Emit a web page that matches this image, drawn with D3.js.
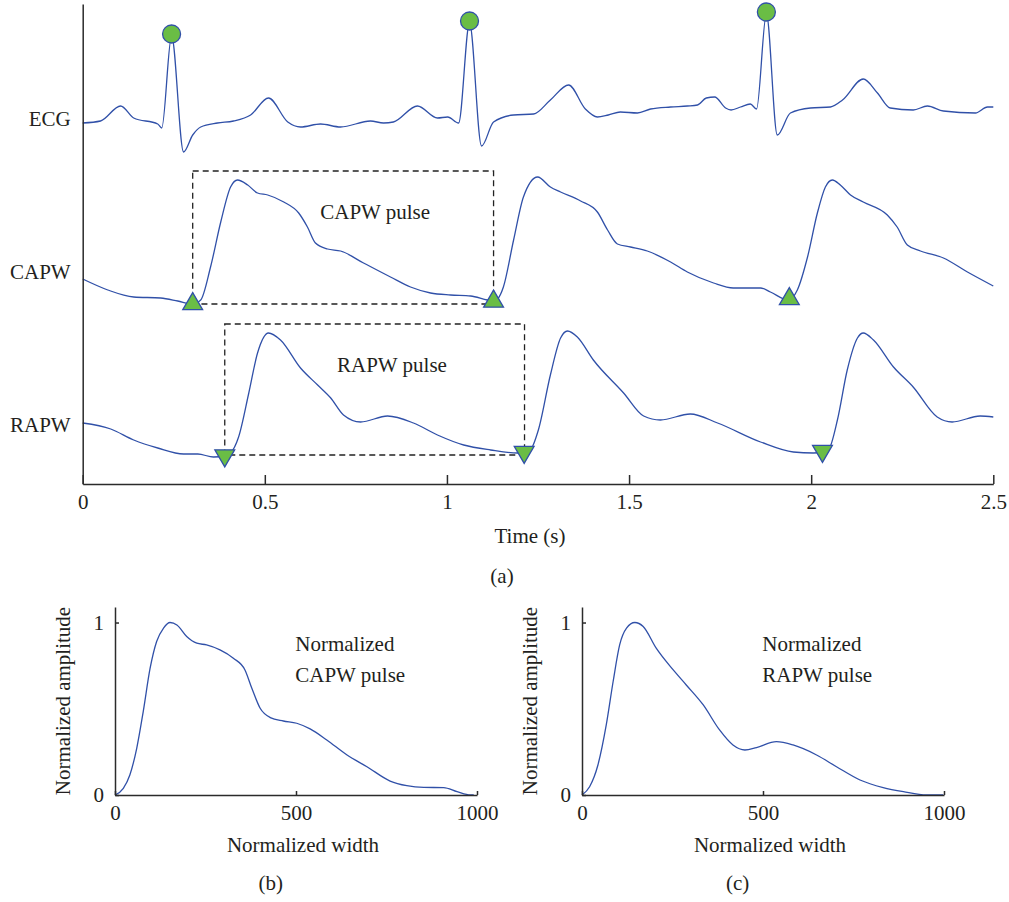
<!DOCTYPE html>
<html>
<head>
<meta charset="utf-8">
<script src="https://cdn.jsdelivr.net/npm/d3@7"></script>
<style>
    body { margin: 0; background: #fff; }
    svg text { font-family: "Liberation Serif", "DejaVu Serif", serif; fill: #231f20; }
</style>
</head>
<body>
<svg id="figure"></svg>
<script>
// ---- panel (a) data : time (s), amplitude (a.u., traces stacked) ----
var timeTicks = [0, 0.5, 1, 1.5, 2, 2.5];
var traceNames = ["ECG", "CAPW", "RAPW"];
var traceLabelLevels = [71.6, 41.0, 10.4];

var ecgTrace = [
    [0.00, 72.2], [0.049, 72.6], [0.104, 75.6], [0.140, 73.2], [0.206, 72.0], [0.217, 71.2],
    [0.244, 89.6], [0.277, 66.4], [0.302, 69.8], [0.324, 71.4], [0.370, 72.2], [0.414, 72.6],
    [0.461, 73.8], [0.510, 77.2], [0.563, 72.4], [0.598, 71.4], [0.653, 72.0], [0.708, 71.4],
    [0.790, 72.6], [0.826, 72.2], [0.853, 72.4], [0.919, 75.6], [0.974, 73.2], [1.002, 73.4],
    [1.032, 72.2], [1.062, 92.2], [1.095, 67.6], [1.128, 72.4], [1.183, 73.8], [1.238, 74.0],
    [1.284, 76.8], [1.334, 79.8], [1.380, 75.0], [1.413, 73.4], [1.443, 73.8], [1.476, 74.4],
    [1.523, 74.2], [1.559, 75.0], [1.614, 75.4], [1.660, 75.6], [1.688, 75.8], [1.712, 77.2],
    [1.735, 77.4], [1.765, 75.2], [1.780, 74.8], [1.806, 75.4], [1.833, 76.0], [1.850, 75.0], [1.877, 94.0],
    [1.907, 69.8], [1.943, 74.2], [1.998, 75.2], [2.053, 75.4], [2.086, 76.8], [2.143, 81.0],
    [2.182, 78.2], [2.217, 75.2], [2.280, 74.8], [2.319, 75.6], [2.363, 74.6], [2.451, 74.2],
    [2.484, 75.4], [2.500, 75.4]
];

var capwTrace = [
    [0.00, 41.0], [0.069, 38.8], [0.140, 37.4], [0.214, 37.2], [0.261, 36.6], [0.302, 36.0],
    [0.324, 36.8], [0.351, 43.4], [0.379, 52.4], [0.406, 59.4], [0.425, 60.8], [0.453, 59.8],
    [0.480, 58.2], [0.508, 57.8], [0.552, 56.4], [0.593, 54.2], [0.617, 51.4], [0.639, 48.2],
    [0.672, 47.0], [0.708, 46.6], [0.771, 44.2], [0.845, 41.4], [0.900, 39.4], [0.955, 38.2],
    [1.010, 37.8], [1.065, 37.6], [1.111, 36.8], [1.128, 36.6], [1.139, 37.0], [1.155, 39.4],
    [1.183, 48.8], [1.210, 57.4], [1.249, 61.4], [1.284, 59.4], [1.312, 58.4], [1.367, 56.6],
    [1.413, 54.4], [1.441, 50.8], [1.468, 48.0], [1.504, 47.4], [1.550, 46.6], [1.614, 44.4],
    [1.660, 42.4], [1.732, 40.2], [1.786, 39.2], [1.861, 39.2], [1.888, 38.4], [1.937, 36.8],
    [1.962, 38.8], [1.990, 45.4], [2.017, 54.2], [2.039, 59.4], [2.058, 60.8], [2.080, 59.8],
    [2.108, 57.8], [2.143, 56.4], [2.209, 53.8], [2.236, 51.4], [2.264, 47.8], [2.300, 46.6],
    [2.363, 45.2], [2.429, 42.4], [2.500, 39.6]
];

var rapwTrace = [
    [0.00, 12.2], [0.077, 11.0], [0.140, 8.8], [0.206, 7.2], [0.277, 6.0], [0.316, 6.0],
    [0.359, 5.4], [0.390, 5.6], [0.406, 6.2], [0.428, 9.4], [0.456, 18.2], [0.480, 26.2],
    [0.510, 30.2], [0.543, 28.8], [0.598, 23.2], [0.645, 19.8], [0.681, 17.2], [0.716, 13.8],
    [0.763, 12.4], [0.837, 13.6], [0.908, 12.2], [0.974, 9.8], [1.046, 7.8], [1.120, 6.8],
    [1.194, 6.2], [1.210, 6.2], [1.229, 6.8], [1.251, 10.8], [1.284, 21.8], [1.312, 29.2],
    [1.331, 30.6], [1.358, 29.4], [1.402, 24.8], [1.485, 18.2], [1.540, 13.6], [1.586, 12.8],
    [1.668, 14.0], [1.743, 12.2], [1.861, 8.4], [1.951, 6.4], [2.006, 6.2], [2.031, 6.4],
    [2.047, 6.8], [2.072, 12.8], [2.099, 22.8], [2.127, 29.2], [2.143, 30.2], [2.171, 28.8],
    [2.226, 23.4], [2.280, 19.4], [2.346, 13.4], [2.387, 12.4], [2.464, 13.6], [2.500, 13.4]
];

var ecgPeakTimes = [0.244, 1.062, 1.877];
var ecgPeakValues = [90.0, 92.6, 94.4];
var capwOnsetTimes = [0.302, 1.128, 1.940];
var capwOnsetValues = [36.0, 36.5, 37.0];
var rapwOnsetTimes = [0.390, 1.212, 2.031];
var rapwOnsetValues = [5.7, 6.4, 6.6];

var pulseBoxLabels = ["CAPW pulse", "RAPW pulse"];
var pulseBoxStart = [0.302, 0.390];
var pulseBoxEnd = [1.128, 1.213];
var pulseBoxLow = [36.0, 5.8];
var pulseBoxHigh = [62.6, 32.0];
var pulseLabelTime = [0.803, 0.849];
var pulseLabelLevel = [53.0, 22.4];

// ---- panels (b) and (c) : normalized width, normalized amplitude ----
var widthTicks = [0, 500, 1000];
var amplitudeTicks = [0, 1];

var capwNormalized = [
    [0, 0], [23, 0.039], [41, 0.116], [60, 0.271], [78, 0.484], [97, 0.735], [115, 0.890],
    [134, 0.967], [152, 1.0], [171, 0.986], [198, 0.919], [226, 0.880], [253, 0.870],
    [290, 0.841], [327, 0.793], [359, 0.725], [378, 0.619], [401, 0.503], [429, 0.449],
    [465, 0.429], [502, 0.416], [539, 0.383], [585, 0.319], [641, 0.232], [696, 0.164],
    [760, 0.081], [806, 0.054], [853, 0.044], [908, 0.043], [945, 0.019], [982, 0.0], [991, 0.0]
];

var rapwNormalized = [
    [0, 0], [21, 0.048], [44, 0.174], [67, 0.406], [86, 0.658], [104, 0.870], [123, 0.967],
    [146, 1.0], [169, 0.977], [205, 0.851], [252, 0.725], [288, 0.638], [335, 0.522],
    [380, 0.377], [417, 0.290], [450, 0.261], [482, 0.275], [537, 0.309], [583, 0.290],
    [648, 0.232], [703, 0.164], [768, 0.087], [832, 0.043], [888, 0.019], [952, 0.0], [998, 0.0]
];

var subPanels = [
    { tag: "(b)", title: ["Normalized", "CAPW pulse"], data: capwNormalized, left: 115 },
    { tag: "(c)", title: ["Normalized", "RAPW pulse"], data: rapwNormalized, left: 582 }
];

var lineColor = "#3050a8";
var markerFill = "#6abd45";
var axisColor = "#2b2b2b";

var svg = d3.select("#figure")
    .attr("width", 1009)
    .attr("height", 902);

// ================= panel (a) =================
//Scale
var xScale = d3.scaleLinear().domain([0, 2.5]).range([82.7, 993.3]);
var yScale = d3.scaleLinear().domain([0, 96]).range([484, 4]);

var traceLine = d3.line()
    .x(function(d) { return xScale(d[0]); })
    .y(function(d) { return yScale(d[1]); })
    .curve(d3.curveMonotoneX);

[ecgTrace, capwTrace, rapwTrace].forEach(function(trace) {
    svg.append("path")
        .datum(trace)
        .attr("fill", "none")
        .attr("stroke", lineColor)
        .attr("stroke-width", 1.3)
        .attr("d", traceLine);
});

// dashed pulse boxes
pulseBoxLabels.forEach(function(label, i) {
    svg.append("rect")
        .attr("x", xScale(pulseBoxStart[i]))
        .attr("y", yScale(pulseBoxHigh[i]))
        .attr("width", xScale(pulseBoxEnd[i]) - xScale(pulseBoxStart[i]))
        .attr("height", yScale(pulseBoxLow[i]) - yScale(pulseBoxHigh[i]))
        .attr("fill", "none")
        .attr("stroke", "#222")
        .attr("stroke-width", 1.3)
        .attr("stroke-dasharray", "6,4");

    svg.append("text")
        .attr("x", xScale(pulseLabelTime[i]))
        .attr("y", yScale(pulseLabelLevel[i]))
        .attr("text-anchor", "middle")
        .style("font-size", "21px")
        .text(label);
});

// markers
svg.selectAll(".rpeak")
    .data(ecgPeakTimes)
    .enter()
    .append("circle")
    .attr("class", "rpeak")
    .attr("cx", function(d) { return xScale(d); })
    .attr("cy", function(d, i) { return yScale(ecgPeakValues[i]); })
    .attr("r", 9)
    .attr("fill", markerFill)
    .attr("stroke", lineColor)
    .attr("stroke-width", 1.3);

var triangle = d3.symbol().type(d3.symbolTriangle).size(170);

svg.selectAll(".capwOnset")
    .data(capwOnsetTimes)
    .enter()
    .append("path")
    .attr("class", "capwOnset")
    .attr("d", triangle)
    .attr("transform", function(d, i) { return "translate(" + xScale(d) + "," + yScale(capwOnsetValues[i]) + ")"; })
    .attr("fill", markerFill)
    .attr("stroke", lineColor)
    .attr("stroke-width", 1.3);

svg.selectAll(".rapwOnset")
    .data(rapwOnsetTimes)
    .enter()
    .append("path")
    .attr("class", "rapwOnset")
    .attr("d", triangle)
    .attr("transform", function(d, i) { return "translate(" + xScale(d) + "," + yScale(rapwOnsetValues[i]) + ") rotate(180)"; })
    .attr("fill", markerFill)
    .attr("stroke", lineColor)
    .attr("stroke-width", 1.3);

// trace names
svg.selectAll(".traceName")
    .data(traceNames)
    .enter()
    .append("text")
    .attr("class", "traceName")
    .attr("x", xScale(0) - 12)
    .attr("y", function(d, i) { return yScale(traceLabelLevels[i]); })
    .attr("text-anchor", "end")
    .style("font-size", "21px")
    .text(function(d) { return d; });

//Axis
var xAxis = d3.axisBottom(xScale)
    .tickValues(timeTicks)
    .tickFormat(d3.format("~g"))
    .tickSizeInner(-9)
    .tickSizeOuter(0)
    .tickPadding(10);

var yAxis = d3.axisLeft(yScale)
    .tickValues([])
    .tickSizeOuter(0);

var gx = svg.append("g")
    .attr("transform", "translate(0," + yScale(0) + ")")
    .call(xAxis);

var gy = svg.append("g")
    .attr("transform", "translate(" + xScale(0) + ",0)")
    .call(yAxis);

[gx, gy].forEach(function(g) {
    g.select(".domain").attr("stroke", axisColor).attr("stroke-width", 1.5);
    g.selectAll(".tick line").attr("stroke", axisColor).attr("stroke-width", 1.5);
    g.selectAll(".tick text")
        .attr("fill", "#231f20")
        .style("font-family", "'Liberation Serif', serif")
        .style("font-size", "21px");
});

svg.append("text")
    .attr("x", 530)
    .attr("y", 543)
    .attr("text-anchor", "middle")
    .style("font-size", "21px")
    .text("Time (s)");

svg.append("text")
    .attr("x", 502)
    .attr("y", 583)
    .attr("text-anchor", "middle")
    .style("font-size", "21px")
    .text("(a)");

// ================= panels (b), (c) =================
subPanels.forEach(function(panel) {
    var px = d3.scaleLinear().domain([0, 1000]).range([panel.left, panel.left + 362]);
    var py = d3.scaleLinear().domain([0, 1.09]).range([795, 607]);

    var pulseLine = d3.line()
        .x(function(d) { return px(d[0]); })
        .y(function(d) { return py(d[1]); })
        .curve(d3.curveMonotoneX);

    svg.append("path")
        .datum(panel.data)
        .attr("fill", "none")
        .attr("stroke", lineColor)
        .attr("stroke-width", 1.3)
        .attr("d", pulseLine);

    var bx = svg.append("g")
        .attr("transform", "translate(0," + py(0) + ")")
        .call(d3.axisBottom(px)
            .tickValues(widthTicks)
            .tickFormat(d3.format("d"))
            .tickSizeInner(-4)
            .tickSizeOuter(0)
            .tickPadding(10));

    var by = svg.append("g")
        .attr("transform", "translate(" + px(0) + ",0)")
        .call(d3.axisLeft(py)
            .tickValues(amplitudeTicks)
            .tickFormat(d3.format("d"))
            .tickSizeInner(-4)
            .tickSizeOuter(0)
            .tickPadding(11));

    [bx, by].forEach(function(g) {
        g.select(".domain").attr("stroke", axisColor).attr("stroke-width", 1.5);
        g.selectAll(".tick line").attr("stroke", axisColor).attr("stroke-width", 1.5);
        g.selectAll(".tick text")
            .attr("fill", "#231f20")
            .style("font-family", "'Liberation Serif', serif")
            .style("font-size", "21px");
    });

    svg.append("text")
        .attr("transform", "translate(" + (px(0) - 45) + "," + py(0.545) + ") rotate(-90)")
        .attr("text-anchor", "middle")
        .style("font-size", "21px")
        .text("Normalized amplitude");

    svg.append("text")
        .attr("x", px(500) + 7)
        .attr("y", 852)
        .attr("text-anchor", "middle")
        .style("font-size", "21px")
        .text("Normalized width");

    panel.title.forEach(function(line, i) {
        svg.append("text")
            .attr("x", px(498))
            .attr("y", py(i === 0 ? 0.835 : 0.655))
            .style("font-size", "21px")
            .text(line);
    });

    svg.append("text")
        .attr("x", px(430))
        .attr("y", 890)
        .attr("text-anchor", "middle")
        .style("font-size", "21px")
        .text(panel.tag);
});
</script>
</body>
</html>
